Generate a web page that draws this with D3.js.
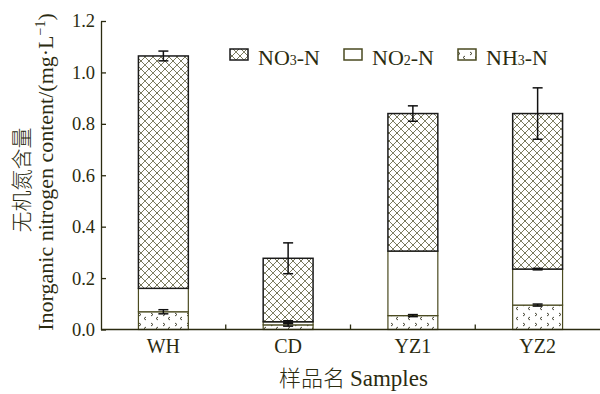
<!DOCTYPE html>
<html>
<head>
<meta charset="utf-8">
<script src="https://cdn.jsdelivr.net/npm/d3@7/dist/d3.min.js"></script>
<style>
  body { margin: 0; background: #fff; }
  svg text { font-family: "Liberation Serif", "Noto Sans CJK SC", serif; fill: #2b2b10; }
</style>
</head>
<body>
<svg class="chart"></svg>
<script>
var samples = ["WH", "CD", "YZ1", "YZ2"];
var nh3 = [0.069, 0.018, 0.054, 0.095];
var no2 = [0.091, 0.012, 0.251, 0.140];
var no3 = [0.904, 0.247, 0.535, 0.605];
var totalErr = [0.019, 0.06, 0.03, 0.1];
var nh3Err = [0.008, 0.005, 0.004, 0.004];
var no2Err = [0, 0.004, 0, 0.003];
var yTicks = [0, 0.2, 0.4, 0.6, 0.8, 1.0, 1.2];
var keys = ["nh3", "no2", "no3"];
var legendLabels = [["NO", "3", "-N"], ["NO", "2", "-N"], ["NH", "3", "-N"]];

var W = 600, H = 394;
var margin = { top: 21, right: 0, bottom: 64.5, left: 101 };
var width = W - margin.left - margin.right,
    height = H - margin.top - margin.bottom;

var svg = d3.select(".chart").attr("width", W).attr("height", H);
var defs = svg.append("defs");

// crosshatch (NO3)
var p1 = defs.append("pattern").attr("id", "hatch")
  .attr("patternUnits", "userSpaceOnUse").attr("width", 8).attr("height", 8);
p1.append("rect").attr("width", 8).attr("height", 8).attr("fill", "#fff");
p1.append("path").attr("d", "M0,0L8,8M8,0L0,8")
  .attr("stroke", "#6a6a4a").attr("stroke-width", 0.9).attr("fill", "none");
p1.append("path").attr("d", "M3,3L5,5M5,3L3,5")
  .attr("stroke", "#8a8a70").attr("stroke-width", 0.6).attr("fill", "none");

// sparse chevrons (NH3)
var p2 = defs.append("pattern").attr("id", "dots")
  .attr("patternUnits", "userSpaceOnUse").attr("width", 12).attr("height", 10);
p2.append("rect").attr("width", 12).attr("height", 10).attr("fill", "#fff");
p2.append("path").attr("d", "M2,2L4,3.5L2,5M9,6L7,7.5L9,9")
  .attr("stroke", "#333320").attr("stroke-width", 0.9).attr("fill", "none");

var fills = { nh3: "url(#dots)", no2: "#fff", no3: "url(#hatch)" };
var strokes = { nh3: "#4a4a20", no2: "#4a4a20", no3: "#1a1a1a" };

var rows = samples.map(function (s, i) {
  return { s: s, nh3: nh3[i], no2: no2[i], no3: no3[i] };
});
var series = d3.stack().keys(keys)(rows);

var g = svg.append("g").attr("transform", "translate(" + margin.left + "," + margin.top + ")");

var x = d3.scaleBand().domain(samples).range([0, width]).paddingInner(0.6).paddingOuter(0.3);
var xb = d3.scaleBand().domain(samples).range([0, width]);
var y = d3.scaleLinear().domain([0, 1.2]).range([height, 0]);

// bars
g.selectAll(".layer")
  .data(series)
  .enter().append("g")
  .attr("class", "layer")
  .each(function (sr) {
    d3.select(this).selectAll("rect")
      .data(sr)
      .enter().append("rect")
      .attr("x", function (d) { return x(d.data.s); })
      .attr("y", function (d) { return y(d[1]); })
      .attr("width", x.bandwidth())
      .attr("height", function (d) { return y(d[0]) - y(d[1]); })
      .attr("fill", fills[sr.key])
      .attr("stroke", strokes[sr.key])
      .attr("stroke-width", sr.key == "no3" ? 1.5 : 1.2);
  });

// error bars
function errBars(tops, errs, cap) {
  samples.forEach(function (s, i) {
    if (!errs[i]) return;
    var cx = x(s) + x.bandwidth() / 2;
    var eg = g.append("g").attr("stroke", "#111").attr("stroke-width", 1.5);
    eg.append("line").attr("x1", cx).attr("x2", cx)
      .attr("y1", y(tops[i] - errs[i])).attr("y2", y(tops[i] + errs[i]));
    eg.append("line").attr("x1", cx - cap).attr("x2", cx + cap)
      .attr("y1", y(tops[i] + errs[i])).attr("y2", y(tops[i] + errs[i]));
    eg.append("line").attr("x1", cx - cap).attr("x2", cx + cap)
      .attr("y1", y(tops[i] - errs[i])).attr("y2", y(tops[i] - errs[i]));
  });
}
var totals = samples.map(function (s, i) { return nh3[i] + no2[i] + no3[i]; });
var no2Tops = samples.map(function (s, i) { return nh3[i] + no2[i]; });
errBars(totals, totalErr, 5);
errBars(nh3, nh3Err, 5);
errBars(no2Tops, no2Err, 5);

// axes
var axisColor = "#2b2b10";
var yAxis = g.append("g")
  .call(d3.axisLeft(y).tickValues(yTicks).tickSize(-5).tickSizeOuter(0).tickPadding(6)
    .tickFormat(d3.format(".1f")));
var xAxis = g.append("g").attr("transform", "translate(0," + height + ")")
  .call(d3.axisBottom(xb).tickSize(0).tickSizeOuter(0).tickPadding(9));
[yAxis, xAxis].forEach(function (a) {
  a.select(".domain").attr("stroke", axisColor).attr("stroke-width", 1.3);
  a.selectAll(".tick line").attr("stroke", axisColor).attr("stroke-width", 1.3);
  a.selectAll(".tick text")
    .style("font-family", "'Liberation Serif', serif").attr("fill", "#2b2b10");
});
yAxis.selectAll(".tick text").style("font-size", "18.5px");
xAxis.selectAll(".tick text").style("font-size", "20px");
xAxis.select(".domain").attr("d", "M0,0H" + width);
// x tick marks at band boundaries, pointing up
xAxis.selectAll(".sep")
  .data(samples.slice(1))
  .enter().append("line")
  .attr("x1", function (d) { return xb(d); })
  .attr("x2", function (d) { return xb(d); })
  .attr("y1", 0).attr("y2", -5)
  .attr("stroke", axisColor).attr("stroke-width", 1.3);

// axis labels
var xl = g.append("text")
  .attr("x", width / 2 + 3).attr("y", height + 56)
  .attr("text-anchor", "middle")
  .style("font-size", "22px");
xl.append("tspan").style("font-family", "'Noto Sans CJK SC'").style("font-weight", 300).text("样品名 ");
xl.append("tspan").style("font-family", "'Liberation Serif'").style("font-size", "23px").text("Samples");

svg.append("text").attr("transform", "translate(29,180) rotate(-90)")
  .attr("text-anchor", "middle").style("font-size", "21px")
  .style("font-family", "'Noto Sans CJK SC'").style("font-weight", 300).text("无机氮含量");
var yl2 = svg.append("text").attr("transform", "translate(53,172) rotate(-90)")
  .attr("text-anchor", "middle").style("font-size", "22px");
yl2.append("tspan").text("Inorganic nitrogen content/(mg·L");
yl2.append("tspan").attr("dy", -8).style("font-size", "14px").text("−1");
yl2.append("tspan").attr("dy", 8).text(")");

// legend
var legendX = [230, 344, 458];
var legendKeys = ["no3", "no2", "nh3"];
var lg = svg.append("g");
legendKeys.forEach(function (k, i) {
  lg.append("rect")
    .attr("x", legendX[i]).attr("y", 49)
    .attr("width", 18).attr("height", 11)
    .attr("fill", fills[k]).attr("stroke", strokes[k]).attr("stroke-width", 1.5);
  var t = lg.append("text").attr("x", legendX[i] + 28).attr("y", 65)
    .style("font-size", "22px");
  t.append("tspan").text(legendLabels[i][0]);
  t.append("tspan").style("font-size", "14px").text(legendLabels[i][1]);
  t.append("tspan").text(legendLabels[i][2]);
});
</script>
</body>
</html>
